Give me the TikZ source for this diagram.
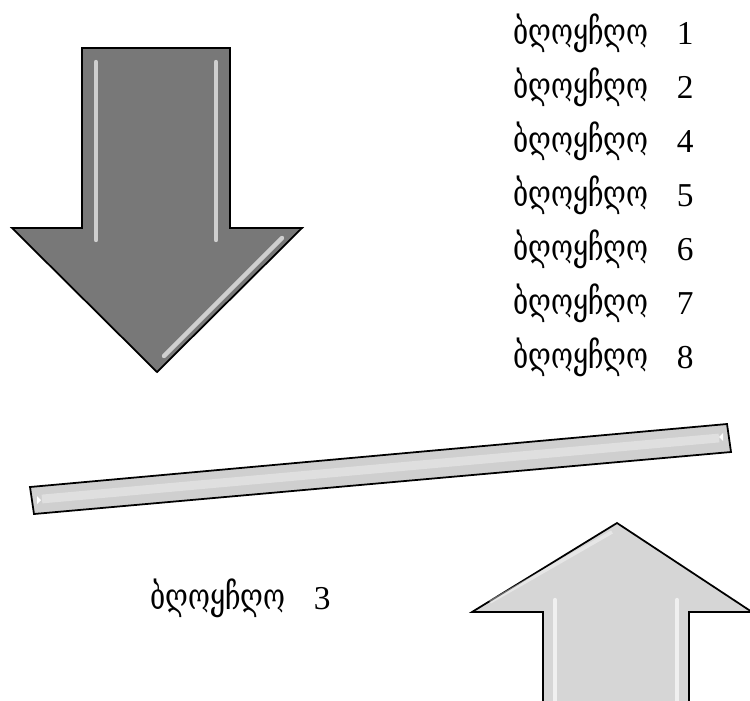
\documentclass[tikz,border=0pt]{standalone}
\usepackage{fontspec}
\setmainfont{Liberation Serif}
\newfontfamily\geofont[FakeStretch=0.72]{DejaVu Serif}
\definecolor{darkarrow}{HTML}{787878}
\definecolor{lightarrow}{HTML}{D6D6D6}
\definecolor{barfill}{HTML}{CFCFCF}
\newcommand{\blocklabel}[1]{{\geofont\fontsize{21}{23}\selectfont ბღოყჩღო}\hspace{0.85em}#1}
\tikzset{
  outline/.style={draw=black, line width=1pt, line join=miter},
  shine/.style={white, opacity=0.65, line width=2.5pt, line cap=round},
  blocktext/.style={anchor=west, inner sep=0pt, font=\fontsize{19}{21}\selectfont},
}
\begin{document}
\begin{tikzpicture}[x=0.02cm, y=-0.02cm]
    \useasboundingbox (0,0) rectangle (750,700);

    % Down arrow
    \filldraw[outline, fill=darkarrow] (82,48) -- (230,48) -- (230,228) -- (302,228)
        -- (157,372) -- (12,228) -- (82,228) -- cycle;
    \draw[shine] (96,62) -- (96,240);
    \draw[shine] (216,62) -- (216,240);
    \draw[shine] (282,238) -- (164,356);

    % Balance bar
    \filldraw[outline, fill=barfill] (30,487) -- (727,424) -- (731,452) -- (34,514) -- cycle;
    \draw[white, opacity=0.35, line width=5pt] (42,499) -- (719,438);
    \fill[white] (37,496) -- (41,500) -- (37,504) -- cycle;
    \fill[white] (723,433) -- (719,437) -- (723,441) -- cycle;

    % Up arrow, cut by the lower edge
    \fill[lightarrow] (543,702) -- (543,612) -- (472,612) -- (617,523) -- (752,612)
        -- (689,612) -- (689,702) -- cycle;
    \draw[outline] (543,702) -- (543,612) -- (472,612) -- (617,523) -- (752,612)
        -- (689,612) -- (689,702);
    \draw[shine] (555,600) -- (555,702);
    \draw[shine] (677,600) -- (677,702);
    \draw[white, opacity=0.4, line width=2pt] (490,602) -- (612,532);

    % Labels
    \foreach \n [count=\i from 0] in {1,2,4,5,6,7,8}
        \node[blocktext] (block\n) at (513,33+54.1*\i) {\blocklabel{\n}};
    \node[blocktext] (block3) at (150,598) {\blocklabel{3}};
\end{tikzpicture}
\end{document}
